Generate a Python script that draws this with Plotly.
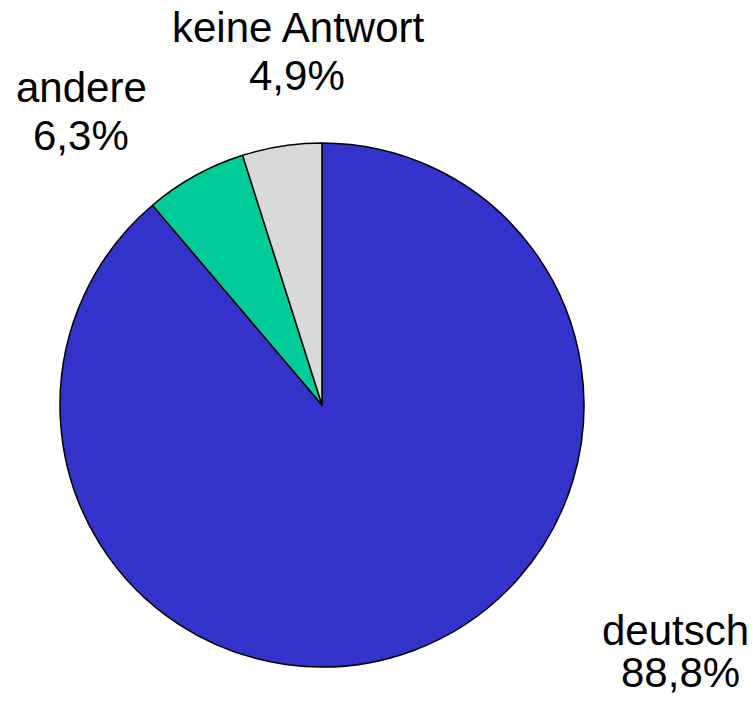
import plotly.graph_objects as go

categories = ["deutsch", "andere", "keine Antwort"]
values = [88.8, 6.3, 4.9]
colors = ["#3333CC", "#00CC99", "#D9D9D9"]

# page body has an 8px margin; figure fills the rest of the 756x702 window
OFF = 8
W, H = 756 - 2 * OFF, 702 - 2 * OFF
FONT = "Liberation Sans, Arial, sans-serif"
FS = 42


def fx(px):
    return (px - OFF) / W


def fy(py):
    return 1 - (py - OFF) / H


fig = go.Figure(go.Pie(
    labels=categories,
    values=values,
    sort=False,
    direction="clockwise",
    rotation=0,
    marker=dict(colors=colors, line=dict(color="black", width=1.5)),
    textinfo="none",
    hoverinfo="label+percent",
    showlegend=False,
    domain=dict(x=[fx(60), fx(584)], y=[fy(667), fy(143)]),
))

# label positions (window pixel centers) for name line and percent line
label_pos = {
    "deutsch": ((675, 630.5), (680, 672.5)),
    "andere": ((81, 87.5), (81, 135.5)),
    "keine Antwort": ((298, 27.5), (297, 75.5)),
}

for cat, val in zip(categories, values):
    (nx, ny), (px, py) = label_pos[cat]
    pct = f"{val:.1f}".replace(".", ",") + "%"
    for txt, x, y in ((cat, nx, ny), (pct, px, py)):
        fig.add_annotation(
            text=txt, x=fx(x), y=fy(y), xref="paper", yref="paper",
            xanchor="center", yanchor="middle", showarrow=False,
            font=dict(family=FONT, size=FS, color="black"),
        )

fig.update_layout(
    width=W, height=H,
    margin=dict(l=0, r=0, t=0, b=0),
    paper_bgcolor="white",
    plot_bgcolor="white",
    font=dict(family=FONT),
)

fig.write_html("out.html")
